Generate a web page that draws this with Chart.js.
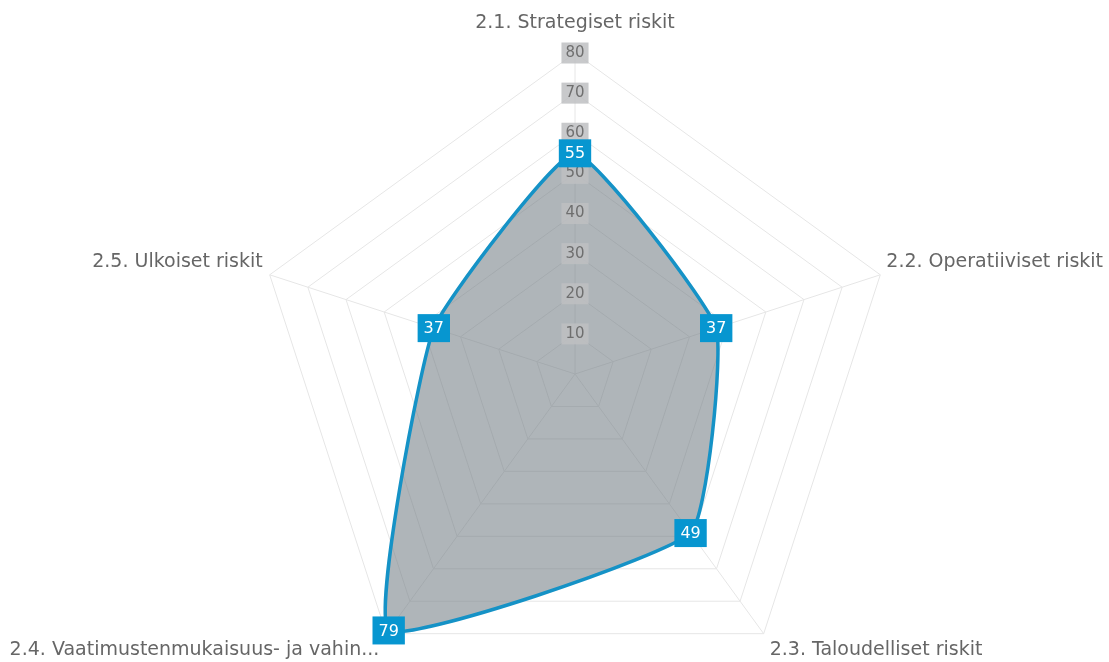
<!DOCTYPE html>
<html>
<head>
<meta charset="utf-8">
<script src="https://cdn.jsdelivr.net/npm/chart.js@4/dist/chart.umd.min.js"></script>
<style>
html,body{margin:0;padding:0;background:#fff;height:662px;overflow:hidden;}
#wrap{width:1109px;height:706px;position:relative;}
</style>
</head>
<body>
<div id="wrap"><canvas id="c"></canvas></div>
<script>
// risk categories and scores
const categories=['2.1. Strategiset riskit','2.2. Operatiiviset riskit','2.3. Taloudelliset riskit','2.4. Vaatimustenmukaisuus- ja vahin...','2.5. Ulkoiset riskit'];
const scores=[55,37,49,79,37];
const scaleMax=80;
const scaleStep=10;

// category labels placed beside the outer vertices
const axisLabels={
  id:'axisLabels',
  afterDraw(chart){
    const ctx=chart.ctx, r=chart.scales.r;
    ctx.save();
    ctx.font='19px "DejaVu Sans"';
    ctx.fillStyle='#666';
    ctx.textBaseline='middle';
    categories.forEach((lab,i)=>{
      const p=r.getPointPositionForValue(i,scaleMax);
      const dx=p.x-r.xCenter, dy=p.y-r.yCenter;
      let x=p.x, y=p.y;
      if(Math.abs(dx)<5){ctx.textAlign='center';y-=30;}
      else{
        ctx.textAlign=dx>0?'left':'right';
        x+=dx>0?6:-7;
        y+=dy<0?-13:16;
      }
      ctx.fillText(lab,x,y);
    });
    ctx.restore();
  }
};

const valueBoxes={
  id:'valueBoxes',
  afterDraw(chart){
    const ctx=chart.ctx;
    const meta=chart.getDatasetMeta(0);
    ctx.save();
    ctx.font='16px "DejaVu Sans"';
    ctx.textAlign='center';
    ctx.textBaseline='middle';
    meta.data.forEach((pt,i)=>{
      const txt=String(scores[i]);
      const w=ctx.measureText(txt).width+12, h=28;
      ctx.fillStyle='#0796d0';
      ctx.fillRect(pt.x-w/2,pt.y-h/2,w,h);
      ctx.fillStyle='#fff';
      ctx.fillText(txt,pt.x,pt.y+1);
    });
    ctx.restore();
  }
};

new Chart(document.getElementById('c'),{
  type:'radar',
  data:{labels:categories,datasets:[{
    data:scores,
    borderColor:'#1592c6',borderWidth:3.5,
    backgroundColor:'rgba(118,128,135,0.58)',
    fill:true,tension:0.13,pointRadius:0
  }]},
  options:{responsive:true,maintainAspectRatio:false,animation:false,
    layout:{padding:{top:42,bottom:0,left:243,right:202}},
    plugins:{legend:{display:false},tooltip:{enabled:false}},
    scales:{r:{min:0,max:scaleMax,
      ticks:{stepSize:scaleStep,color:'rgba(102,102,102,0.9)',font:{size:15,family:'DejaVu Sans'},
        showLabelBackdrop:true,backdropColor:'rgba(190,192,194,0.85)',backdropPadding:{x:4,y:3},z:1},
      grid:{color:'#e6e6e6',lineWidth:1},
      angleLines:{color:'#e6e6e6'},
      pointLabels:{display:false}
    }}
  },
  plugins:[axisLabels,valueBoxes]
});
</script>
</body>
</html>
